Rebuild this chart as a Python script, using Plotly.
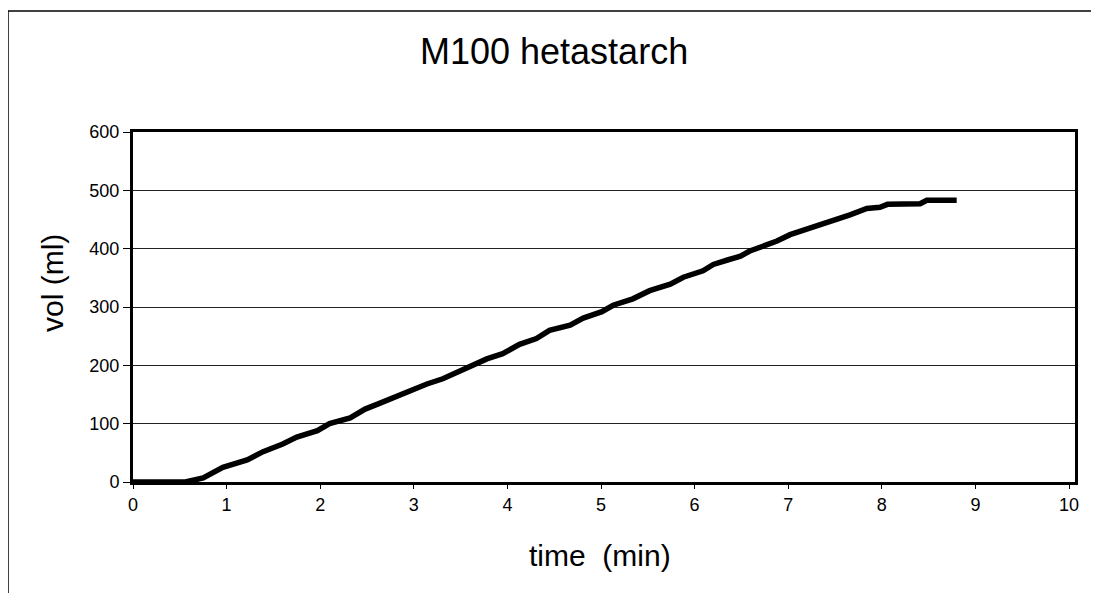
import plotly.graph_objects as go

# data
time_min = [0, 0.56, 0.75, 0.96, 1.22, 1.39, 1.60, 1.75, 1.97, 2.10, 2.32, 2.48,
            2.62, 2.78, 2.99, 3.14, 3.31, 3.46, 3.60, 3.78, 3.95, 4.13, 4.31, 4.45,
            4.67, 4.81, 5.01, 5.13, 5.34, 5.52, 5.74, 5.88, 6.09, 6.20, 6.36, 6.49,
            6.59, 6.88, 7.02, 7.23, 7.45, 7.66, 7.84, 7.98, 8.06, 8.41, 8.48, 8.80]
vol_ml = [0, 0, 7, 25, 38, 52, 65, 77, 88, 100, 110, 125,
          134, 145, 157, 168, 177, 188, 197, 211, 220, 236, 246, 260,
          269, 281, 292, 303, 314, 328, 339, 351, 362, 373, 381, 387,
          396, 413, 424, 435, 446, 458, 469, 471, 476, 477, 483, 483]

x_ticks = [0, 1, 2, 3, 4, 5, 6, 7, 8, 9, 10]
y_ticks = [0, 100, 200, 300, 400, 500, 600]

title_text = "M100 hetastarch"
x_title = "time  (min)"
y_title = "vol (ml)"

font_family = "Liberation Sans, Arial, sans-serif"

fig = go.Figure()
fig.add_trace(go.Scatter(
    x=time_min, y=vol_ml, mode="lines",
    line=dict(color="black", width=5.5, shape="linear"),
    showlegend=False, hoverinfo="skip",
))

# the page body adds an 8px offset, so the figure is sized to compensate
fig.update_layout(
    width=1083, height=585,
    margin=dict(l=125, r=16, t=124, b=111, autoexpand=False),
    paper_bgcolor="white", plot_bgcolor="white",
    font=dict(family=font_family, color="black"),
    showlegend=False,
)

fig.update_xaxes(
    range=[0, 10.064], tickvals=x_ticks, ticktext=[str(v) for v in x_ticks],
    showgrid=False, zeroline=False,
    showline=True, linecolor="black", linewidth=3, mirror=True,
    ticks="outside", ticklen=4, tickcolor="black", tickwidth=1,
    tickfont=dict(size=18, family=font_family),
)
fig.update_yaxes(
    range=[0, 600], tickvals=y_ticks, ticktext=[str(v) for v in y_ticks],
    showgrid=True, gridcolor="#222222", gridwidth=1, zeroline=False,
    showline=True, linecolor="black", linewidth=3, mirror=True,
    ticks="outside", ticklen=7, tickcolor="black", tickwidth=1,
    tickfont=dict(size=18, family=font_family),
)

fig.add_annotation(text=title_text, xref="paper", yref="paper",
                   x=0.447, y=1.2286, xanchor="center", yanchor="middle",
                   showarrow=False, font=dict(size=36, family=font_family, color="black"))
fig.add_annotation(text=x_title, xref="paper", yref="paper",
                   x=0.4958, y=-0.2086, xanchor="center", yanchor="middle",
                   showarrow=False, font=dict(size=30, family=font_family, color="black"))
fig.add_annotation(text=y_title, xref="paper", yref="paper",
                   x=-0.0849, y=0.5686, xanchor="center", yanchor="middle",
                   textangle=-90,
                   showarrow=False, font=dict(size=30, family=font_family, color="black"))

# outer frame (only left and top edges visible in the reference)
fig.add_shape(type="line", xref="paper", yref="paper",
              x0=-0.1327, x1=1.2, y0=1.3457, y1=1.3457,
              line=dict(color="black", width=1.5))
fig.add_shape(type="line", xref="paper", yref="paper",
              x0=-0.1327, x1=-0.1327, y0=-0.5, y1=1.3457,
              line=dict(color="black", width=1.5))

fig.write_html("out.html", config={"displayModeBar": False})
